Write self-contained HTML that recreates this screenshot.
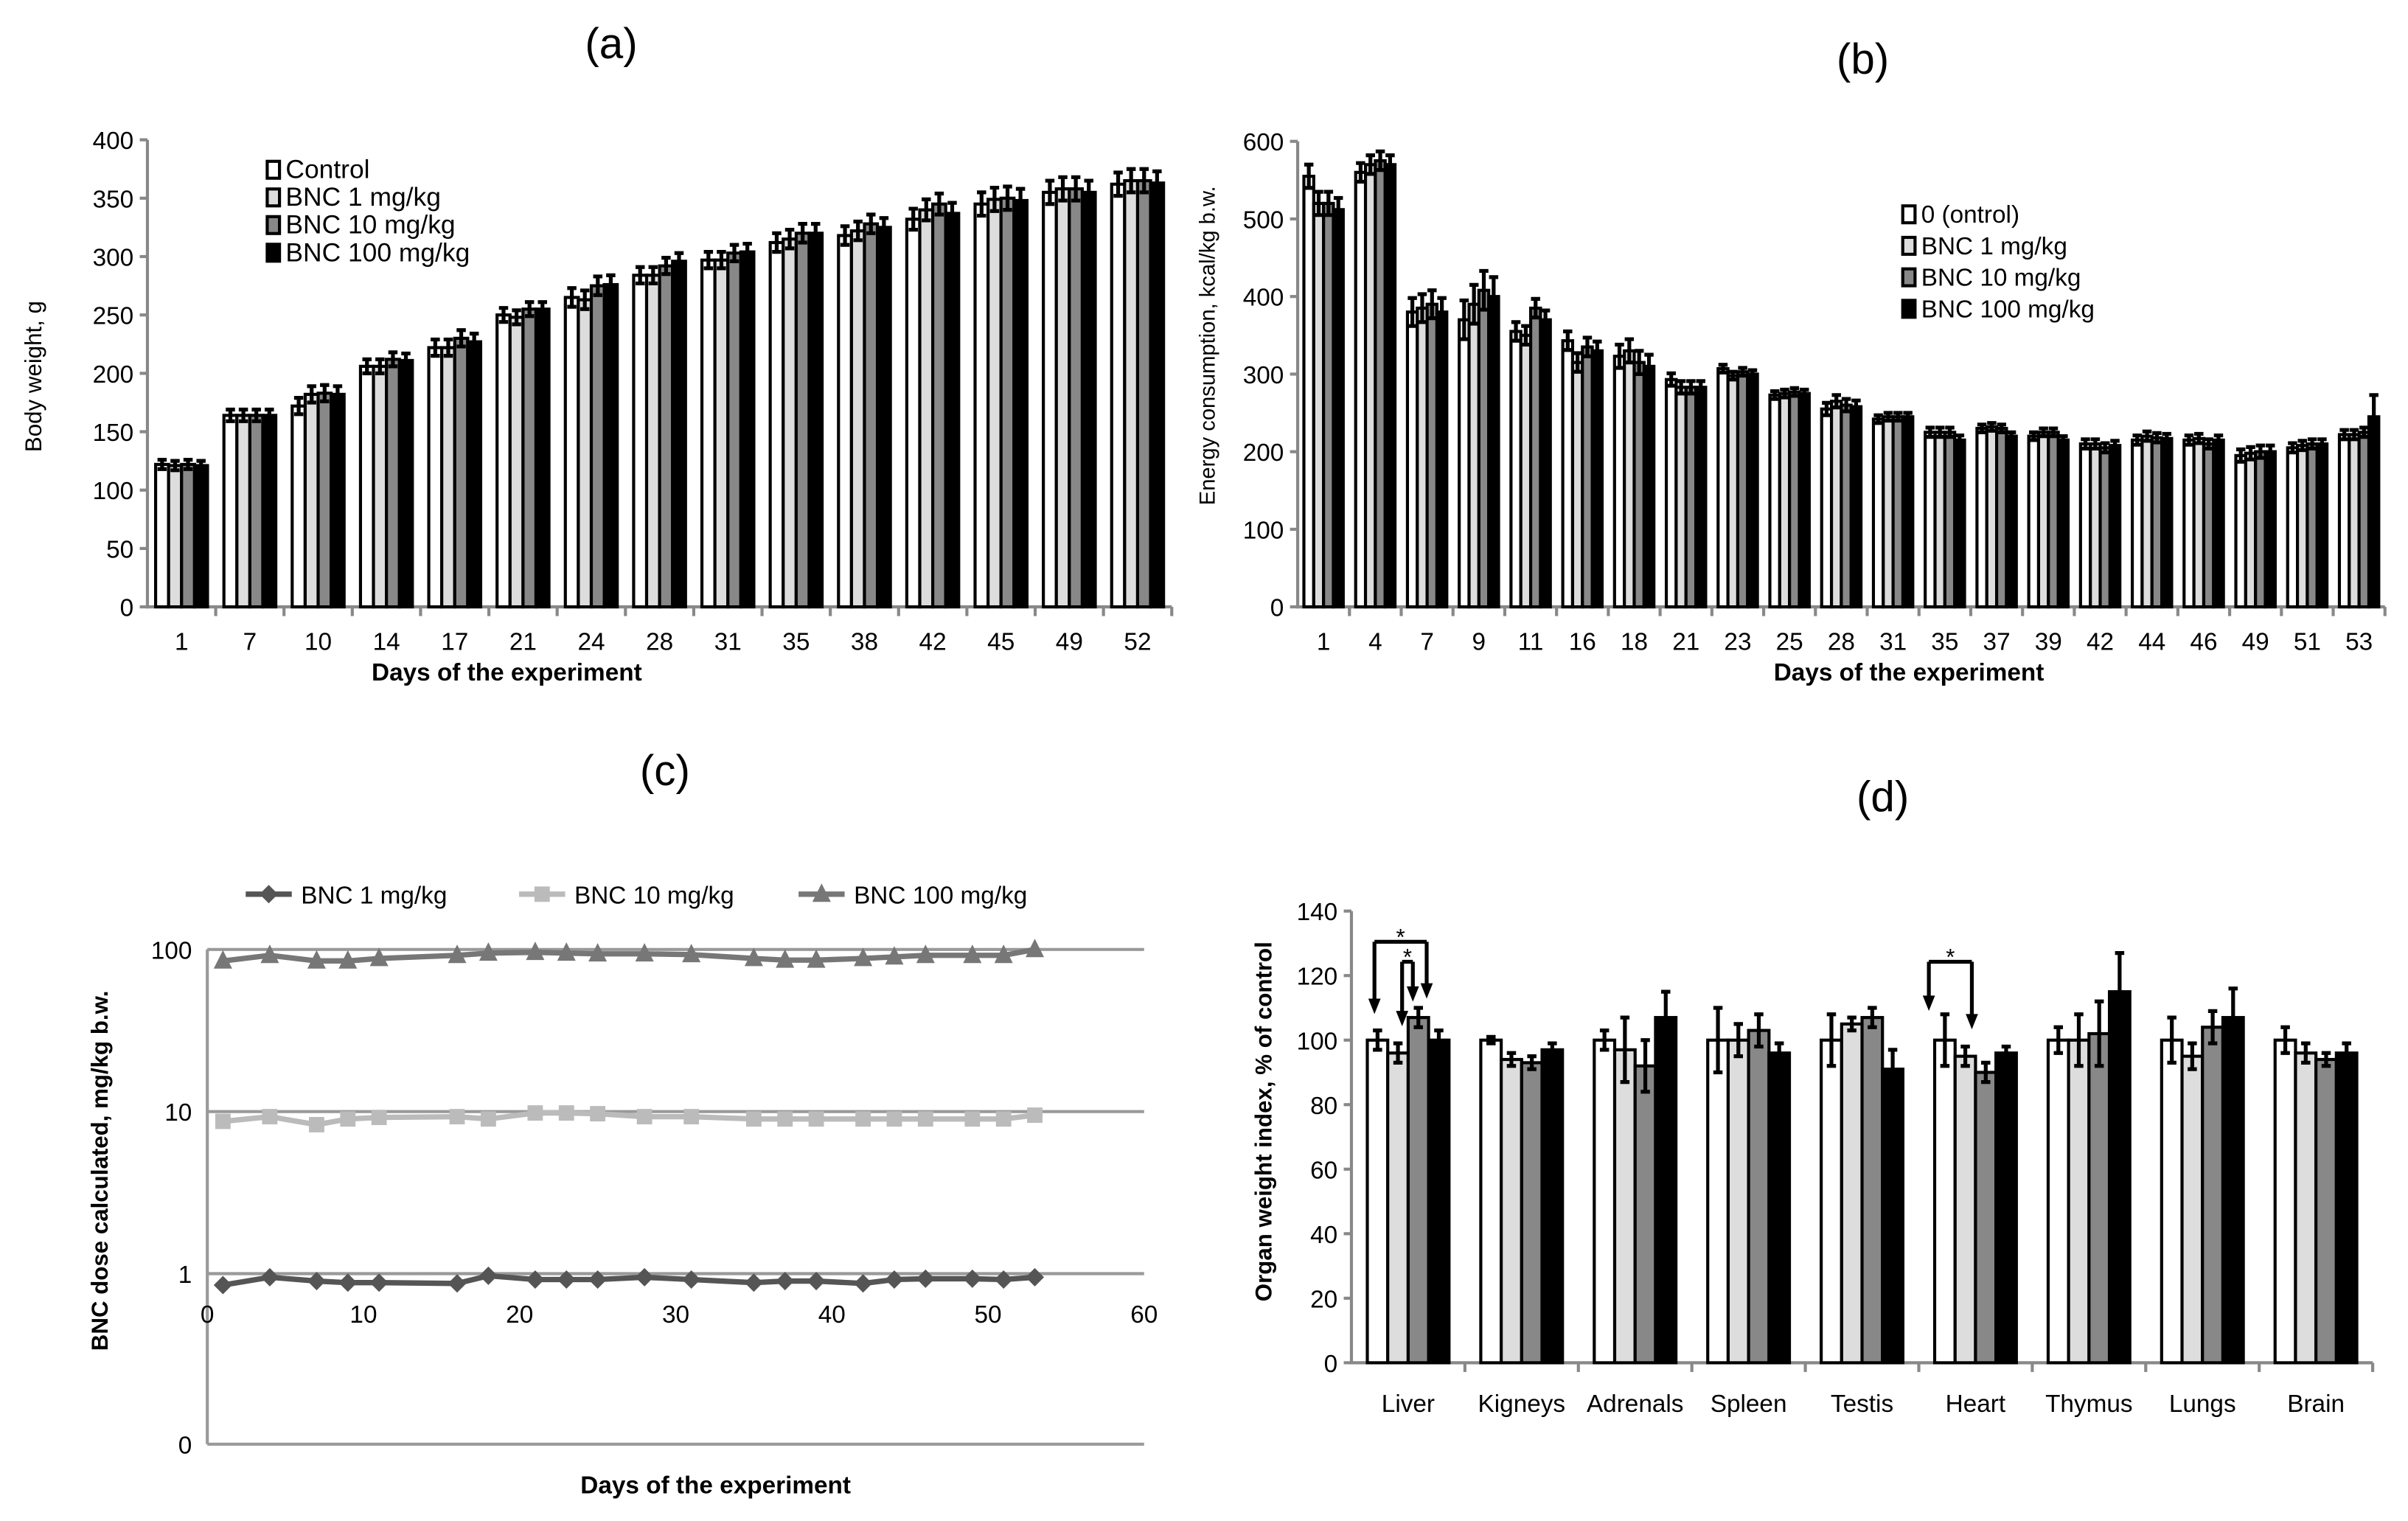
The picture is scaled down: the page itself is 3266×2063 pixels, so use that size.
<!DOCTYPE html>
<html><head><meta charset="utf-8"><style>
html,body{margin:0;padding:0;background:#fff}
svg{display:block}
text{font-family:"Liberation Sans",sans-serif;fill:#000}
</style></head><body>
<svg id="root" width="3266" height="2063" viewBox="0 0 1568 990" preserveAspectRatio="none" xmlns="http://www.w3.org/2000/svg">
<rect width="1568" height="990" fill="#fff"/>
<g id="ga"></g><g id="gb"></g><g id="gc"></g><g id="gd"></g>
</svg>
<script>
// ---- Panel (a) data ----
const aDays = ["1","7","10","14","17","21","24","28","31","35","38","42","45","49","52"];
const aControl = [122,164,172,206,222,250,265,284,297,312,318,332,345,355,362];
const aBNC1 = [121,164,182,206,222,248,263,284,297,315,322,340,349,358,365];
const aBNC10 = [122,164,183,212,230,255,275,292,303,320,328,345,350,358,365];
const aBNC100 = [121,164,182,211,227,255,276,296,304,320,325,337,348,355,363];
const aErr = [4,5,7,6,7,6,8,7,7,8,8,9,10,10,10];
const aTicks = [0,50,100,150,200,250,300,350,400];
// ---- Panel (b) data ----
const bDays = ["1","4","7","9","11","16","18","21","23","25","28","31","35","37","39","42","44","46","49","51","53"];
const bControl = [555,560,380,370,355,343,323,293,307,273,255,242,225,230,220,210,215,215,195,205,222];
const bBNC1 = [520,570,385,390,350,315,330,283,298,275,265,245,225,232,225,210,220,217,198,208,222];
const bBNC10 = [520,575,390,408,385,335,315,283,303,277,260,245,225,230,225,205,218,210,200,210,225];
const bBNC100 = [512,570,380,400,370,330,310,283,300,275,258,245,215,220,215,208,217,215,200,210,245];
const bErr = [15,12,18,25,12,12,15,8,5,5,8,5,6,5,5,6,6,6,8,6,6];
const bErr100 = [15,12,18,25,12,12,15,8,5,5,8,5,6,5,5,6,6,6,8,6,28];
const bTicks = [0,100,200,300,400,500,600];
// ---- Panel (c) data ----
const cDays = [1,4,7,9,11,16,18,21,23,25,28,31,35,37,39,42,44,46,49,51,53];
const cBNC1 = [0.85,0.95,0.9,0.88,0.88,0.87,0.97,0.92,0.92,0.92,0.95,0.92,0.88,0.9,0.9,0.87,0.92,0.93,0.93,0.92,0.95];
const cBNC10 = [8.7,9.3,8.3,9,9.2,9.3,9,9.8,9.8,9.7,9.3,9.3,9,9,9,9,9,9,9,9,9.5];
const cBNC100 = [85,92,85,85,88,92,95,96,95,94,94,93,88,86,86,88,90,92,92,92,100];
const cXTicks = [0,10,20,30,40,50,60];
// ---- Panel (d) data ----
const dOrgans = ["Liver","Kigneys","Adrenals","Spleen","Testis","Heart","Thymus","Lungs","Brain"];
const dControl = [100,100,100,100,100,100,100,100,100];
const dBNC1 = [96,94,97,100,105,95,100,95,96];
const dBNC10 = [107,93,92,103,107,90,102,104,94];
const dBNC100 = [100,97,107,96,91,96,115,107,96];
const dErrC = [3,1,3,10,8,8,4,7,4];
const dErr1 = [3,2,10,5,2,3,8,4,3];
const dErr10 = [3,2,8,5,3,3,10,5,2];
const dErr100 = [3,2,8,3,6,2,12,9,3];
const dTicks = [0,20,40,60,80,100,120,140];

const NS="http://www.w3.org/2000/svg";
function mk(parent,tag,attrs,txt){const e=document.createElementNS(NS,tag);for(const k in attrs)e.setAttribute(k,attrs[k]);if(txt!==undefined)e.textContent=txt;parent.appendChild(e);return e;}
const fills=["#fff","#ddd","#888","#000"];

function barChart(g,cfg){
  const {cats,series,errs,ticks,x0,x1,yb,yt,ymax,bwFrac,pfx}=cfg;
  const ys=v=>yb-(v/ymax)*(yb-yt);
  const gw=(x1-x0)/cats.length, bw=gw*bwFrac, off=(gw-4*bw)/2;
  const ya=mk(g,"line",{x1:x0,y1:yt,x2:x0,y2:yb+1,stroke:"#888","stroke-width":2});
  
  
  ticks.forEach(t=>{
    const tk=mk(g,"line",{x1:x0-5,y1:ys(t),x2:x0,y2:ys(t),stroke:"#888","stroke-width":2});
    
    
    const tl=mk(g,"text",{x:x0-9,y:ys(t)+6,"text-anchor":"end","font-size":16},String(t));
    
    
  });
  const xa=mk(g,"line",{x1:x0-1,y1:yb,x2:x1,y2:yb,stroke:"#888","stroke-width":2});
  
  
  cats.forEach((c,i)=>{
    const gx=x0+i*gw;
    const tk=mk(g,"line",{x1:gx+gw,y1:yb,x2:gx+gw,y2:yb+6,stroke:"#888","stroke-width":2});
    
    
    const lb=mk(g,"text",{x:gx+gw/2,y:cfg.labY,"text-anchor":"middle","font-size":16},c);
    
    
    series.forEach((s,k)=>{
      const v=s[i], bx=gx+off+k*bw, y=ys(v);
      const r=mk(g,"rect",{x:bx,y:y,width:bw,height:yb-y,fill:fills[k],stroke:"#000","stroke-width":2});
      
      
      const e=errs[k][i], cx=bx+bw/2;
      const eb=mk(g,"path",{d:`M${cx} ${ys(v-e)}V${ys(v+e)}M${cx-3} ${ys(v+e)}h6M${cx-3} ${ys(v-e)}h6`,stroke:"#000","stroke-width":2.5,fill:"none"});
      
      
    });
  });
  return ys;
}
function legend(g,x,y0,dy,labels,fs,pfx){
  labels.forEach((l,k)=>{
    const r=mk(g,"rect",{x:x,y:y0+k*dy-11,width:8,height:11,fill:fills[k],stroke:"#000","stroke-width":2});
    
    
    const t=mk(g,"text",{x:x+12,y:y0+k*dy,"font-size":fs},l);
    
    
  });
}
function txt(g,attrs,s,name){const t=mk(g,"text",attrs,s);return t;}

// Panel a
const ga=document.getElementById("ga");

barChart(ga,{cats:aDays,series:[aControl,aBNC1,aBNC10,aBNC100],errs:[aErr,aErr,aErr,aErr],ticks:aTicks,x0:96,x1:763,yb:395,yt:91,ymax:400,bwFrac:0.19,labY:423,pfx:"a"});
legend(ga,174,116,18,["Control","BNC 1 mg/kg","BNC 10 mg/kg","BNC 100 mg/kg"],17,"a");
txt(ga,{x:398,y:38,"font-size":28,"text-anchor":"middle"},"(a)","a-title");
txt(ga,{x:330,y:443,"font-size":16,"font-weight":"bold","text-anchor":"middle"},"Days of the experiment","a-x-axis-title");
txt(ga,{x:0,y:0,"font-size":15,"text-anchor":"middle",transform:"translate(27,245) rotate(-90)"},"Body weight,  g","a-y-axis-title");

// Panel b
const gb=document.getElementById("gb");

barChart(gb,{cats:bDays,series:[bControl,bBNC1,bBNC10,bBNC100],errs:[bErr,bErr,bErr,bErr100],ticks:bTicks,x0:845,x1:1553,yb:395,yt:92,ymax:600,bwFrac:0.19,labY:423,pfx:"b"});
legend(gb,1239,145,20.5,["0 (ontrol)","BNC 1 mg/kg","BNC 10 mg/kg","BNC 100 mg/kg"],16,"b");
txt(gb,{x:1213,y:48,"font-size":28,"text-anchor":"middle"},"(b)","b-title");
txt(gb,{x:1243,y:443,"font-size":16,"font-weight":"bold","text-anchor":"middle"},"Days of the experiment","b-x-axis-title");
txt(gb,{x:0,y:0,"font-size":14,"text-anchor":"middle",transform:"translate(791,225) rotate(-90)"},"Energy consumption,  kcal/kg b.w.","b-y-axis-title");

// Panel c
const gc=document.getElementById("gc");

const cx0=135,cx1=745;
const cxs=d=>cx0+d/60*(cx1-cx0);
const cys=v=>829-Math.log10(v)*105.5;
[100,10,1].forEach(v=>{
  const l=mk(gc,"line",{x1:cx0,y1:cys(v),x2:cx1,y2:cys(v),stroke:"#999","stroke-width":2});
  
  txt(gc,{x:cx0-10,y:cys(v)+6,"font-size":16,"text-anchor":"end"},String(v),"c-y-tick-label");
});
txt(gc,{x:cx0-10,y:946,"font-size":16,"text-anchor":"end"},"0","c-y-tick-label");
const cya=mk(gc,"line",{x1:cx0,y1:cys(100),x2:cx0,y2:940,stroke:"#999","stroke-width":2});

const cxa=mk(gc,"line",{x1:cx0,y1:940,x2:cx1,y2:940,stroke:"#999","stroke-width":2});

cXTicks.forEach(t=>txt(gc,{x:cxs(t),y:861,"font-size":16,"text-anchor":"middle"},String(t),"c-x-tick-label"));
const cSeries=[[cBNC1,"#555","diamond","BNC 1 mg/kg"],[cBNC10,"#bbb","square","BNC 10 mg/kg"],[cBNC100,"#777","triangle","BNC 100 mg/kg"]];
function marker(g,shape,x,y,col){
  let d;
  if(shape==="diamond")d=`M${x} ${y-6}L${x+6} ${y}L${x} ${y+6}L${x-6} ${y}Z`;
  else if(shape==="square")d=`M${x-5} ${y-5}h10v10h-10Z`;
  else d=`M${x} ${y-7}L${x+6} ${y+5}L${x-6} ${y+5}Z`;
  const m=mk(g,"path",{d:d,fill:col});
  
}
cSeries.forEach(([vals,col,shape,name],k)=>{
  const pts=vals.map((v,i)=>cxs(cDays[i])+","+cys(v)).join(" ");
  const pl=mk(gc,"polyline",{points:pts,fill:"none",stroke:col,"stroke-width":3.5});
  
  vals.forEach((v,i)=>marker(gc,shape,cxs(cDays[i]),cys(v),col));
  const lx=[160,338,520][k];
  const ll=mk(gc,"line",{x1:lx,y1:582,x2:lx+30,y2:582,stroke:col,"stroke-width":3.5});
  
  marker(gc,shape,lx+15,582,col);
  const lt=txt(gc,{x:lx+36,y:588,"font-size":16},name,"c-legend-entry");
  
});
txt(gc,{x:433,y:511,"font-size":28,"text-anchor":"middle"},"(c)","c-title");
txt(gc,{x:466,y:972,"font-size":16,"font-weight":"bold","text-anchor":"middle"},"Days of the experiment","c-x-axis-title");
txt(gc,{x:0,y:0,"font-size":15,"font-weight":"bold","text-anchor":"middle",transform:"translate(70,762) rotate(-90)"},"BNC dose  calculated,  mg/kg b.w.","c-y-axis-title");

// Panel d
const gd=document.getElementById("gd");

const dys=barChart(gd,{cats:dOrgans,series:[dControl,dBNC1,dBNC10,dBNC100],errs:[dErrC,dErr1,dErr10,dErr100],ticks:dTicks,x0:880,x1:1545,yb:887,yt:593,ymax:140,bwFrac:0.18,labY:919,pfx:"d"});
txt(gd,{x:1226,y:528,"font-size":28,"text-anchor":"middle"},"(d)","d-title");
txt(gd,{x:0,y:0,"font-size":15,"font-weight":"bold","text-anchor":"middle",transform:"translate(828,730) rotate(-90)"},"Organ weight index, % of control","d-y-axis-title");
function arrow(g,x,y1,y2){
  const p=mk(g,"path",{d:`M${x} ${y1}V${y2-8}`,stroke:"#000","stroke-width":2.5,fill:"none"});
  
  const h=mk(g,"path",{d:`M${x-4} ${y2-10}L${x+4} ${y2-10}L${x} ${y2}Z`,fill:"#000"});
  
}
function bracket(g,xa,xb,y,ya,yb2){
  const p=mk(g,"path",{d:`M${xa} ${y}H${xb}`,stroke:"#000","stroke-width":2.5});
  
  arrow(g,xa,y,ya);arrow(g,xb,y,yb2);
  txt(g,{x:(xa+xb)/2,y:y+2,"font-size":15,"text-anchor":"middle"},"*","d-significance-star");
}
bracket(gd,895,929,613,660,650);
bracket(gd,913,920,626,668,652);
bracket(gd,1256,1284,626,658,670);
</script>
</body></html>
